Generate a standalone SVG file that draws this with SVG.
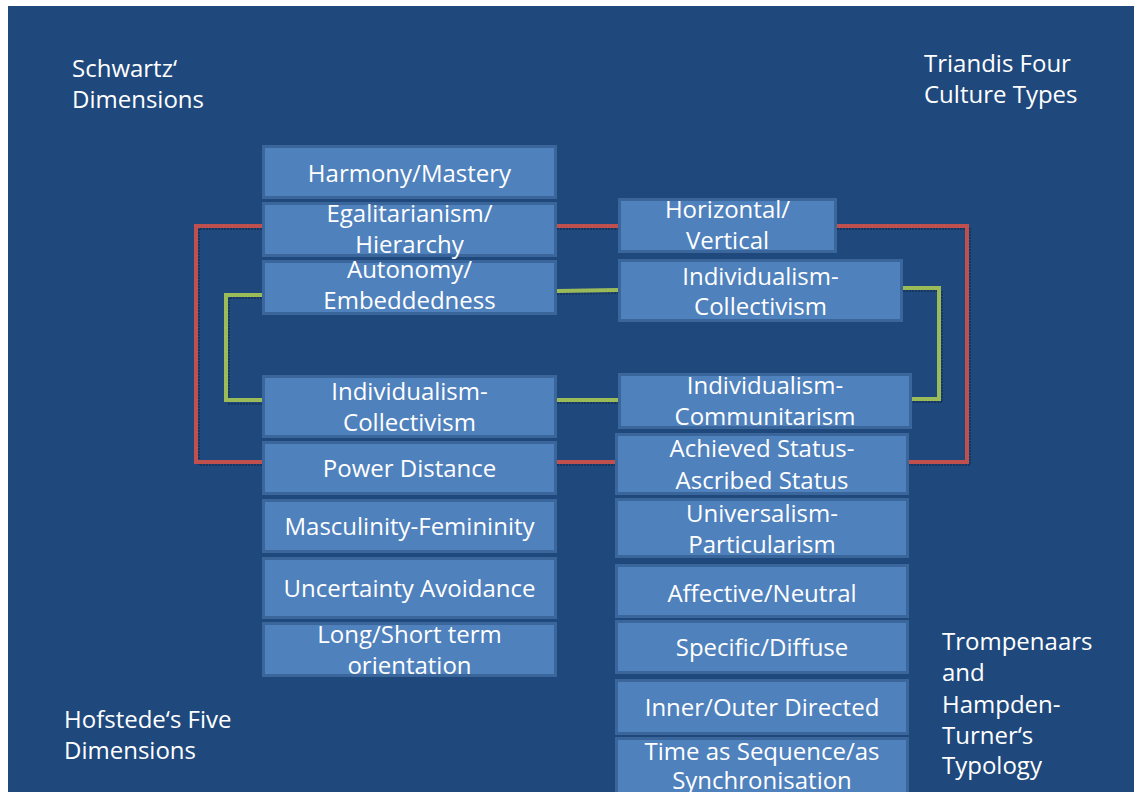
<svg xmlns="http://www.w3.org/2000/svg" width="1134" height="792" viewBox="0 0 1134 792">
<style>
.box{fill:#4F81BD;stroke:#3B669C;stroke-width:3}
.t{font-family:"Open Sans","DejaVu Sans",sans-serif;font-size:24px;fill:#FFFFFF}
.c{text-anchor:middle}
.red{fill:none;stroke:#C0504D;stroke-width:4}
.grn{fill:none;stroke:#9BBB59;stroke-width:4}
.sh{fill:none;stroke:#142F52;stroke-width:2;stroke-dasharray:2 1;opacity:0.7}
</style>
<rect x="0" y="0" width="1134" height="792" fill="#FFFFFF"/>
<rect x="8" y="6" width="1126" height="786" fill="#1F497D"/>
<g id="connectors">
<polyline class="sh" points="265,229 199,229 199,465 265,465"/>
<polyline class="sh" points="837,229 970,229 970,465 909,465"/>
<polyline class="sh" points="265,298 229,298 229,404 265,404"/>
<polyline class="sh" points="903,291 942,291 942,402 912,402"/>
<line class="sh" x1="557" y1="294" x2="618" y2="293"/>
<line class="sh" x1="557" y1="403" x2="618" y2="403"/>
<line class="sh" x1="557" y1="229" x2="618" y2="229"/>
<line class="sh" x1="557" y1="465" x2="615" y2="465"/>
<polyline class="red" points="263,226 196,226 196,462 263,462"/>
<polyline class="red" points="837,226 967,226 967,462 909,462"/>
<line class="red" x1="557" y1="226" x2="618" y2="226"/>
<line class="red" x1="557" y1="462" x2="615" y2="462"/>
<polyline class="grn" points="263,295 226,295 226,400 263,400"/>
<polyline class="grn" points="903,288 939,288 939,399 912,399"/>
<line class="grn" x1="557" y1="291" x2="618" y2="290"/>
<line class="grn" x1="557" y1="400" x2="618" y2="400"/>
</g>
<g id="label-schwartz"><text class="t" x="72" y="77">Schwartz‘</text><text class="t" x="72" y="108">Dimensions</text></g>
<g id="label-triandis"><text class="t" x="924" y="72">Triandis Four</text><text class="t" x="924" y="103">Culture Types</text></g>
<g id="label-hofstede"><text class="t" x="64" y="728">Hofstede‘s Five</text><text class="t" x="64" y="759">Dimensions</text></g>
<g id="label-trompenaars"><text class="t" x="942" y="650">Trompenaars</text><text class="t" x="942" y="681">and</text><text class="t" x="942" y="713">Hampden-</text><text class="t" x="942" y="744">Turner‘s</text><text class="t" x="942" y="774">Typology</text></g>
<g id="harmony"><rect class="box" x="263.5" y="146.5" width="292" height="51"/><text class="t c" x="409.5" y="182">Harmony/Mastery</text></g>
<g id="egalitarianism"><rect class="box" x="263.5" y="203.5" width="292" height="52"/><text class="t c" x="409.5" y="222">Egalitarianism/</text><text class="t c" x="409.5" y="253">Hierarchy</text></g>
<g id="autonomy"><rect class="box" x="263.5" y="261.5" width="292" height="52"/><text class="t c" x="409.5" y="278">Autonomy/</text><text class="t c" x="409.5" y="309">Embeddedness</text></g>
<g id="indcoll-left"><rect class="box" x="263.5" y="376.5" width="292" height="60"/><text class="t c" x="409.5" y="400">Individualism-</text><text class="t c" x="409.5" y="431">Collectivism</text></g>
<g id="powerdistance"><rect class="box" x="263.5" y="442.5" width="292" height="51"/><text class="t c" x="409.5" y="477">Power Distance</text></g>
<g id="masculinity"><rect class="box" x="263.5" y="500.5" width="292" height="51"/><text class="t c" x="409.5" y="535">Masculinity-Femininity</text></g>
<g id="uncertainty"><rect class="box" x="263.5" y="558.5" width="292" height="59"/><text class="t c" x="409.5" y="597">Uncertainty Avoidance</text></g>
<g id="longshort"><rect class="box" x="263.5" y="623.5" width="292" height="52"/><text class="t c" x="409.5" y="643">Long/Short term</text><text class="t c" x="409.5" y="674">orientation</text></g>
<g id="horizontal"><rect class="box" x="619.5" y="199.5" width="216" height="52"/><text class="t c" x="727.5" y="218">Horizontal/</text><text class="t c" x="727.5" y="249">Vertical</text></g>
<g id="indcoll-right"><rect class="box" x="619.5" y="260.5" width="282" height="60"/><text class="t c" x="760.5" y="285">Individualism-</text><text class="t c" x="760.5" y="315">Collectivism</text></g>
<g id="indcomm"><rect class="box" x="619.5" y="374.5" width="291" height="53"/><text class="t c" x="765" y="394">Individualism-</text><text class="t c" x="765" y="425">Communitarism</text></g>
<g id="achieved"><rect class="box" x="616.5" y="434.5" width="291" height="59"/><text class="t c" x="762" y="457">Achieved Status-</text><text class="t c" x="762" y="489">Ascribed Status</text></g>
<g id="universalism"><rect class="box" x="616.5" y="499.5" width="291" height="57"/><text class="t c" x="762" y="522">Universalism-</text><text class="t c" x="762" y="553">Particularism</text></g>
<g id="affective"><rect class="box" x="616.5" y="565.5" width="291" height="51"/><text class="t c" x="762" y="602">Affective/Neutral</text></g>
<g id="specific"><rect class="box" x="616.5" y="621.5" width="291" height="51"/><text class="t c" x="762" y="656">Specific/Diffuse</text></g>
<g id="inner"><rect class="box" x="616.5" y="680.5" width="291" height="53"/><text class="t c" x="762" y="716">Inner/Outer Directed</text></g>
<g id="time"><rect class="box" x="616.5" y="738.5" width="291" height="60"/><text class="t c" x="762" y="760">Time as Sequence/as</text><text class="t c" x="762" y="789">Synchronisation</text></g>
</svg>
